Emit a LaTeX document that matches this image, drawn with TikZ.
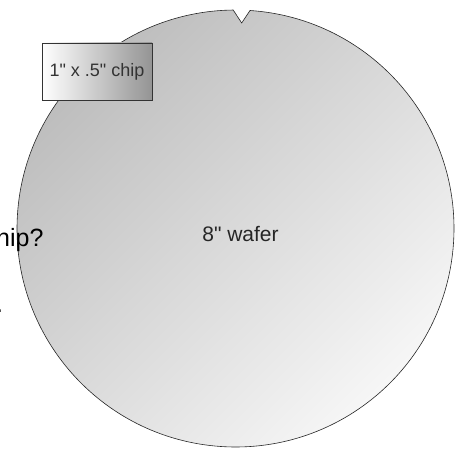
\documentclass[tikz,border=0pt]{standalone}
\usepackage{fontspec}
\newfontfamily\arial{Liberation Sans}
\usetikzlibrary{positioning}

\begin{document}
\begin{tikzpicture}[x=1pt,y=1pt,
  waferfill/.style={draw=black!85,line width=0.6pt,top color=black!26,bottom color=black!3,shading angle=45},
  chipbox/.style={draw=black!80,line width=0.6pt,left color=white,right color=black!42,
    minimum width=110pt,minimum height=57pt,inner sep=0pt,text=black!80,font=\arial\fontsize{18}{20}\selectfont},
  big/.style={font=\arial\fontsize{25}{28}\selectfont,inner sep=0pt}]
\useasboundingbox (0,0) rectangle (455,448);
\coordinate (c) at (235.5,219.5);
% wafer with its notch
\path[waferfill] ([shift={(86.2:218.5)}]c) arc[start angle=86.2,end angle=-269.4,radius=218.5]
  -- (241.7,425) -- cycle;
\node[font=\arial\fontsize{21}{24}\selectfont,text=black!85] (w) at (240.5,214) {8" wafer};
\node[chipbox] (chip) at (97,376.5) {1" x .5" chip};
% leftover text of the slide
\node[big,anchor=base west] (q) at (-4,202) {hip?};
\node[big,anchor=base west] (dot) at (-4,136) {.};
\end{tikzpicture}
\end{document}
